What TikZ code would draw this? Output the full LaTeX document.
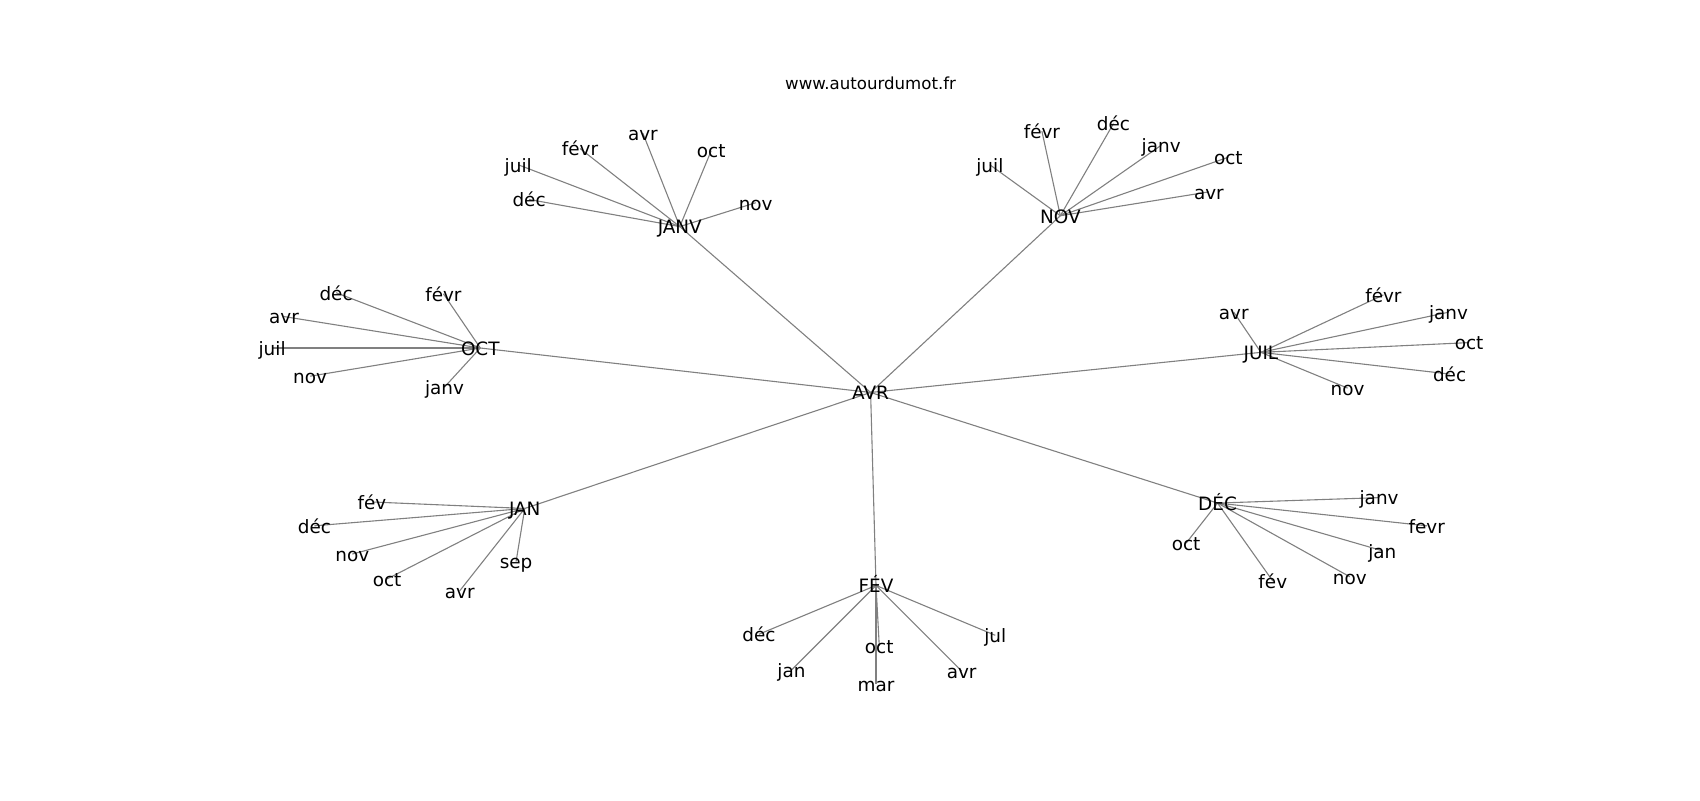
\documentclass[tikz,border=0pt]{standalone}
\usepackage{fontspec}
\setmainfont{DejaVu Sans}
\usetikzlibrary{backgrounds}
\tikzset{
  lbl/.style={inner sep=0pt, font=\fontsize{9.2pt}{11pt}\selectfont, text height=0.73em, text depth=0em},
  ttl/.style={inner sep=0pt, font=\fontsize{8.3pt}{10pt}\selectfont, text height=0.73em, text depth=0em},
  edge/.style={draw=black!50, line width=0.55pt}
}
\begin{document}
\begin{tikzpicture}[x=0.5421pt, y=-0.5421pt]
\path[use as bounding box] (0,0) rectangle (1568,738);
\node[ttl] (title) at (803,76) {www.autourdumot.fr};
% hubs
\foreach \n/\t/\x/\y in {avr/AVR/803/362, janv/JANV/627/209, nov/NOV/978/199, oct/OCT/443/321,
  juil/JUIL/1163/325, jan/JAN/484/469, fev/FÉV/808/540, dec/DÉC/1123/464}
  \node[lbl] (\n) at (\x,\y) {\t};
% leaves
\foreach \n/\t/\x/\y in {
  ja1/juil/478/152, ja2/févr/535/137, ja3/avr/593/123, ja4/oct/656/139, ja5/nov/697/187, ja6/déc/488/184,
  no1/juil/913/152, no2/févr/961/121, no3/déc/1027/114, no4/janv/1071/134, no5/oct/1133/145, no6/avr/1115/177,
  oc1/déc/310/270, oc2/févr/409/271, oc3/avr/262/292, oc4/juil/251/321, oc5/nov/286/347, oc6/janv/410/357,
  ju1/avr/1138/288, ju2/févr/1276/272, ju3/janv/1336/288, ju4/oct/1355/316, ju5/déc/1337/345, ju6/nov/1243/358,
  jn1/fév/343/463, jn2/déc/290/485, jn3/nov/325/511, jn4/oct/357/534, jn5/avr/424/545, jn6/sep/476/518,
  fe1/déc/700/585, fe2/jan/730/618, fe3/oct/811/596, fe4/mar/808/631, fe5/avr/887/619, fe6/jul/918/586,
  de1/janv/1272/459, de2/fevr/1316/485, de3/jan/1275/508, de4/nov/1245/532, de5/fév/1174/536, de6/oct/1094/501}
  \node[lbl] (\n) at (\x,\y) {\t};
\begin{pgfonlayer}{background}
\foreach \h in {janv,nov,oct,juil,jan,fev,dec}
  \draw[edge] (avr.center) -- (\h.center);
\foreach \h/\p in {janv/ja, nov/no, oct/oc, juil/ju, jan/jn, fev/fe, dec/de}
  \foreach \i in {1,...,6}
    \draw[edge] (\h.center) -- (\p\i.center);
\end{pgfonlayer}
\end{tikzpicture}
\end{document}
